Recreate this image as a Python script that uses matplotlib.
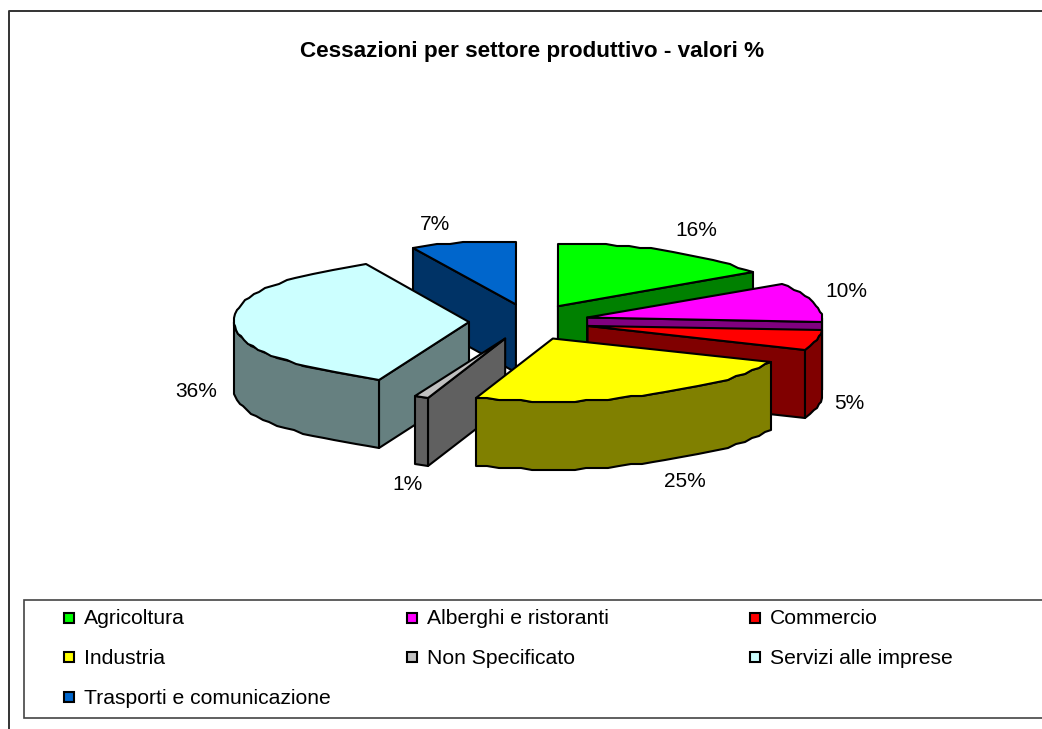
import numpy as np
import matplotlib
matplotlib.use('Agg')
import matplotlib.pyplot as plt
from matplotlib.patches import Polygon, Rectangle

plt.rcParams['font.family'] = ['Liberation Sans', 'DejaVu Sans']

# values, clockwise from 12 o'clock
sectors = ['Agricoltura', 'Alberghi e ristoranti', 'Commercio', 'Industria',
           'Non Specificato', 'Servizi alle imprese', 'Trasporti e comunicazione']
values = [16, 10, 5, 25, 1, 36, 7]
top_colors = ['#00FF00', '#FF00FF', '#FF0000', '#FFFF00', '#C0C0C0', '#CCFFFF', '#0066CC']
side_colors = ['#008000', '#800080', '#800000', '#808000', '#606060', '#668080', '#003366']
title = 'Cessazioni per settore produttivo - valori %'

# pie geometry in pixels
cx, cy = 529, 322
rx, ry = 235, 63
depth = 68
explode_x, explode_y = 60, 18
# slices are painted back to front, the order is by hand
draw_order = [6, 0, 1, 2, 5, 4, 3]
label_pos = [(696, 230), (846, 291), (849, 403), (685, 481), (407, 484), (196, 391), (435, 224)]

fig = plt.figure(figsize=(10.42, 7.29), dpi=100)
ax = fig.add_axes([0, 0, 1, 1])
ax.set_xlim(0, 1042)
ax.set_ylim(729, 0)
ax.axis('off')


def rim(t1, t2, ax0, ay0):
    # outer edge of a slice, snapped a bit to get the wobbly edge of the original
    n = max(int(abs(t2 - t1) / 3), 1) + 1
    t = np.radians(np.linspace(t1, t2, n))
    s, c = np.sin(t), np.cos(t)
    # small corrections for the perspective of the original 3d pie
    shrink = 1 - 0.15 * np.clip(-c, 0, 1) ** 4
    x = ax0 + rx * s * shrink - 8 * np.clip(c, 0, 1) * np.abs(s)
    y = ay0 - ry * c
    return np.column_stack([np.round(x), np.round(y / 2) * 2])


def face(pts, color):
    ax.add_patch(Polygon(pts, closed=True, facecolor=color, edgecolor='black',
                         linewidth=1.5, joinstyle='round'))


angles = np.cumsum([0] + values) * 3.6

for i in draw_order:
    t1, t2 = angles[i], angles[i + 1]
    mid = np.radians((t1 + t2) / 2)
    ax0 = cx + explode_x * np.sin(mid)
    ay0 = cy - explode_y * np.cos(mid)
    apex = np.array([[ax0, ay0]])
    down = np.array([0, depth])
    edge = rim(t1, t2, ax0, ay0)

    # radial faces that look at the viewer
    if np.sin(np.radians(t1)) < -1e-6:
        face(np.vstack([apex, edge[:1], edge[:1] + down, apex + down]), side_colors[i])
    if np.sin(np.radians(t2)) > 1e-6:
        face(np.vstack([apex, edge[-1:], edge[-1:] + down, apex + down]), side_colors[i])

    # outer wall, front half only
    lo, hi = max(t1, 90), min(t2, 270)
    if hi > lo:
        wall = rim(lo, hi, ax0, ay0)
        face(np.vstack([wall, wall[::-1] + down]), side_colors[i])

    face(np.vstack([apex, edge]), top_colors[i])

for v, pos in zip(values, label_pos):
    ax.text(pos[0], pos[1], '%d%%' % v, fontsize=15, ha='center', va='center', color='black')

ax.text(532, 51, title, fontsize=16.2, fontweight='bold', ha='center', va='center')

# chart frame, cut on the right and at the bottom as in the original
ax.plot([9, 9, 1042], [729, 11, 11], color='#333333', linewidth=1.4, clip_on=False)

# legend box
ax.add_patch(Rectangle((24, 600), 1030, 118, facecolor='white', edgecolor='#444444', linewidth=1.2))
col_x = [64, 407, 750]
row_y = [618, 657, 697]
for i, name in enumerate(sectors):
    x = col_x[i % 3]
    y = row_y[i // 3]
    ax.add_patch(Rectangle((x, y - 5), 10, 10, facecolor=top_colors[i], edgecolor='black', linewidth=1.5))
    ax.text(x + 20, y + 1, name, fontsize=15.2, ha='left', va='center')

plt.savefig('out.png', dpi=100)
